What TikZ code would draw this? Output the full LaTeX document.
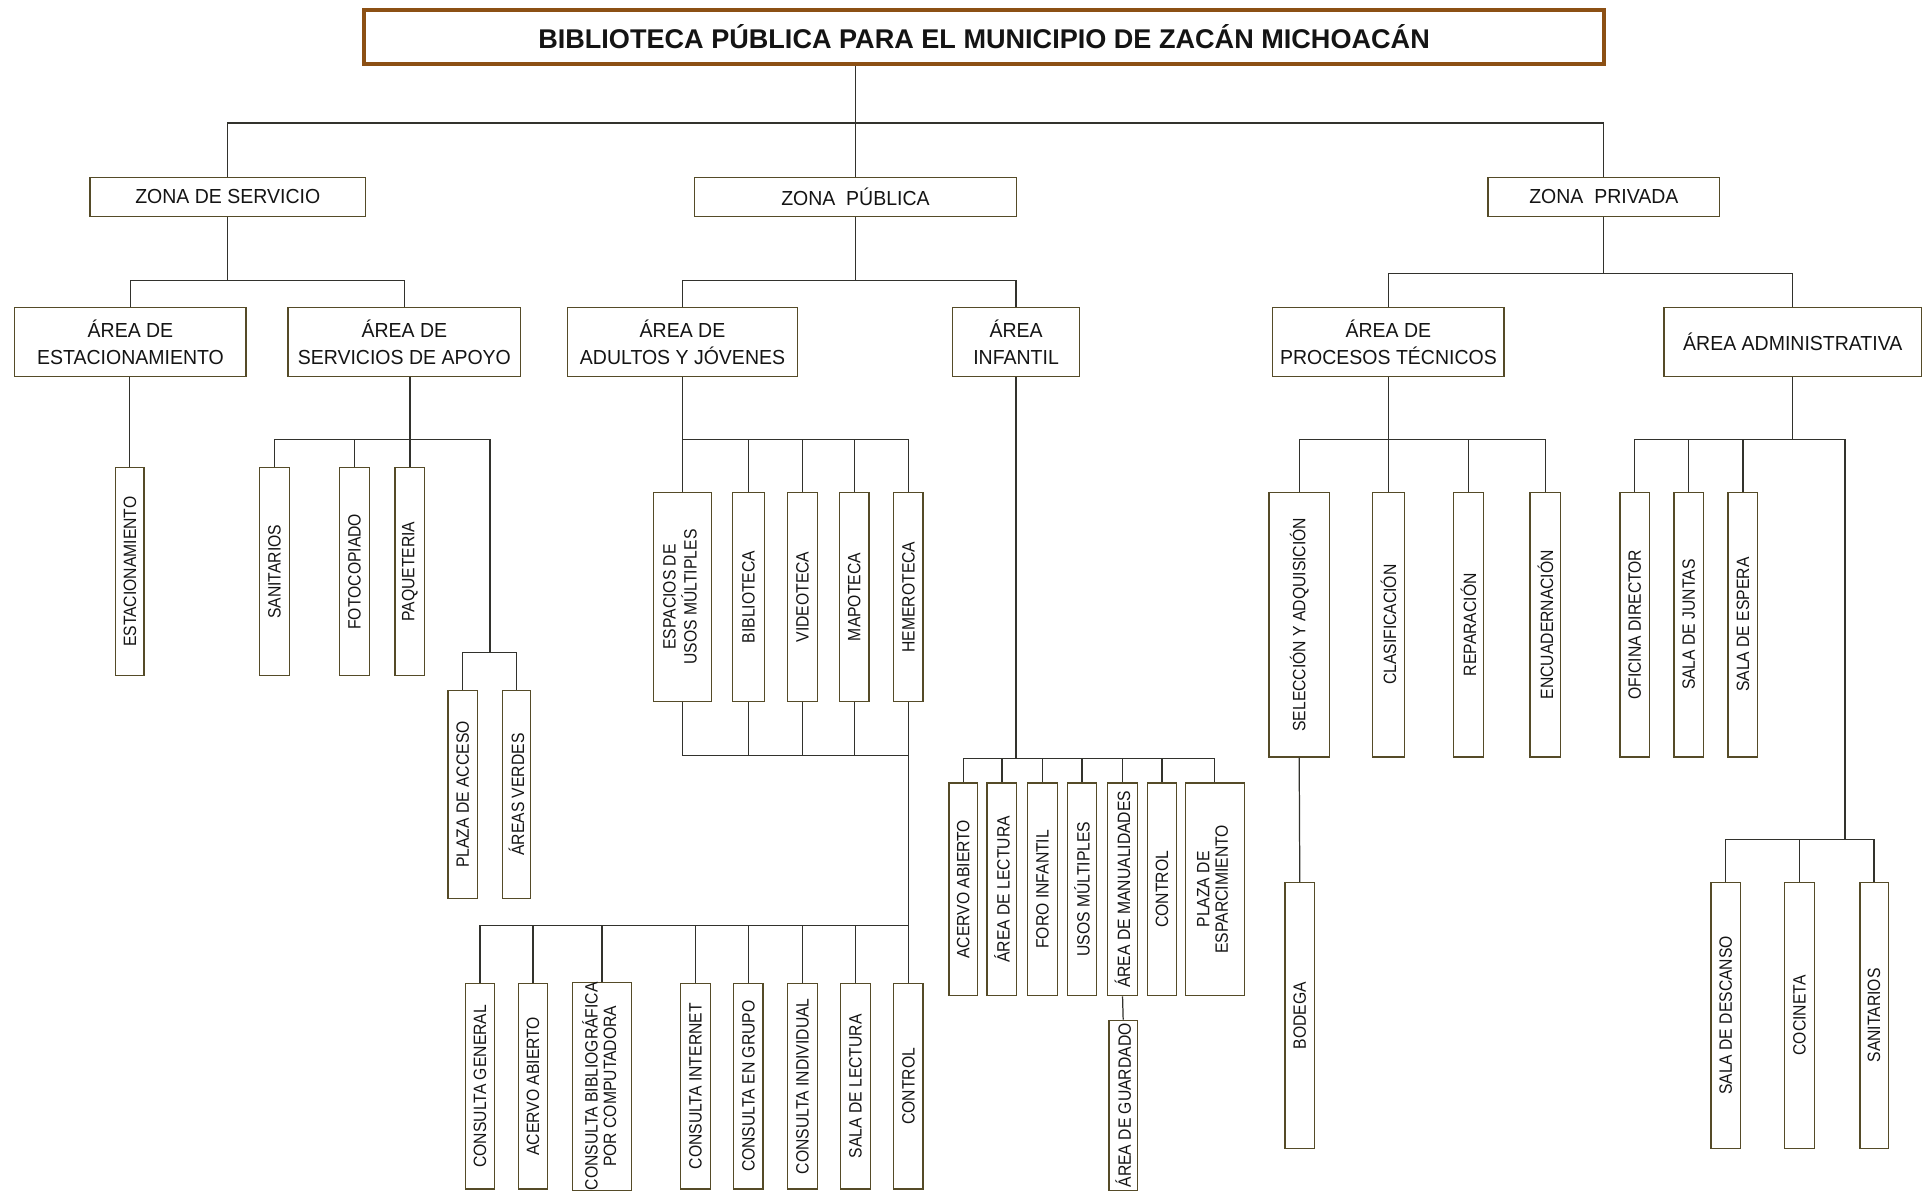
\documentclass[tikz,border=0pt]{standalone}
\usepackage{fontspec}
\usepackage{graphicx}
\setmainfont{Liberation Sans}
\newfontfamily\fhd{Liberation Sans}[FakeStretch=0.96]
\newfontfamily\fvt{Liberation Sans}[FakeStretch=0.88]
\definecolor{bordc}{RGB}{85,75,40}
\definecolor{linec}{RGB}{50,50,45}
\definecolor{titc}{RGB}{140,80,20}
\definecolor{txtc}{RGB}{20,20,20}
\tikzset{
  boxbase/.style={draw=bordc, fill=white, line width=1.1pt, inner sep=0pt, align=center, text=txtc},
  hb/.style={boxbase, font=\fhd\fontsize{16.5}{22}\selectfont},
  vb/.style={boxbase, font=\fvt\fontsize{14.5}{15}\selectfont},
  ttlbox/.style={draw=titc, line width=3.5pt, fill=white, inner sep=0pt, text=txtc, font=\bfseries\fontsize{22}{26}\selectfont},
  conn/.style={draw=linec, line width=1pt}
}
\newcommand{\hbx}[6]{\node[hb,minimum width={(#3-#2)*1pt},minimum height={(#5-#4)*1pt}] (#1) at ({(#2+#3)/2},{(#4+#5)/2}) {#6};}
\newcommand{\vbx}[6]{\node[vb,minimum width={(#3-#2)*1pt},minimum height={(#5-#4)*1pt}] (#1) at ({(#2+#3)/2},{(#4+#5)/2}) {\rotatebox{90}{#6}};}
\newcommand{\vtwo}[2]{\begin{tabular}{@{}c@{}}#1\\#2\end{tabular}}
\begin{document}
\begin{tikzpicture}[x=1pt,y=-1pt]
\useasboundingbox[fill=white] (0,0) rectangle (1568,969);
% title
\node[ttlbox, minimum width=1007pt, minimum height=44pt] (title) at (799.5,30) {BIBLIOTECA PÚBLICA PARA EL MUNICIPIO DE ZACÁN MICHOACÁN};
% zones
\hbx{zs}{73}{297}{144}{176}{ZONA DE SERVICIO}
\hbx{zp}{564}{826}{144}{176}{ZONA\ \ PÚBLICA}
\hbx{zpr}{1209}{1397}{144}{176}{ZONA\ \ PRIVADA}
% level 2
\hbx{ae}{12}{200}{250}{306}{ÁREA DE\\ESTACIONAMIENTO}
\hbx{asa}{234}{423}{250}{306}{ÁREA DE\\SERVICIOS DE APOYO}
\hbx{aa}{461}{648}{250}{306}{ÁREA DE\\ADULTOS Y JÓVENES}
\hbx{ai}{774}{877}{250}{306}{ÁREA\\INFANTIL}
\hbx{pt}{1034}{1222}{250}{306}{ÁREA DE\\PROCESOS TÉCNICOS}
\hbx{ad}{1352}{1561}{250}{306}{ÁREA ADMINISTRATIVA}
% servicio
\vbx{est}{94}{117}{380}{549}{ESTACIONAMIENTO}
\vbx{san}{211}{235}{380}{549}{SANITARIOS}
\vbx{fot}{276}{300}{380}{549}{FOTOCOPIADO}
\vbx{paq}{321}{345}{380}{549}{PAQUETERIA}
\vbx{pac}{364}{388}{561}{730}{PLAZA DE ACCESO}
\vbx{ave}{408}{431}{561}{730}{ÁREAS VERDES}
% adultos
\vbx{esp}{531}{578}{400}{570}{\vtwo{ESPACIOS DE}{USOS MÚLTIPLES}}
\vbx{bib}{595}{621}{400}{570}{BIBLIOTECA}
\vbx{vid}{640}{664}{400}{570}{VIDEOTECA}
\vbx{map}{682}{706}{400}{570}{MAPOTECA}
\vbx{hem}{726}{750}{400}{570}{HEMEROTECA}
\vbx{cg}{378}{402}{799}{966}{CONSULTA GENERAL}
\vbx{aca}{421}{445}{799}{966}{ACERVO ABIERTO}
\vbx{cbc}{465}{513}{799}{966}{\vtwo{CONSULTA BIBLIOGRÁFICA}{POR COMPUTADORA}}
\vbx{cin}{553}{577}{799}{966}{CONSULTA INTERNET}
\vbx{cgr}{596}{620}{799}{966}{CONSULTA EN GRUPO}
\vbx{cind}{640}{664}{799}{966}{CONSULTA INDIVIDUAL}
\vbx{sle}{683}{707}{799}{966}{SALA DE LECTURA}
\vbx{ctl}{726}{750}{799}{966}{CONTROL}
% infantil
\vbx{iac}{771}{794}{636}{809}{ACERVO ABIERTO}
\vbx{ile}{802}{826}{636}{809}{ÁREA DE LECTURA}
\vbx{ifo}{835}{859}{636}{809}{FORO INFANTIL}
\vbx{ius}{867}{891}{636}{809}{USOS MÚLTIPLES}
\vbx{ima}{900}{924}{636}{809}{ÁREA DE MANUALIDADES}
\vbx{ico}{932}{956}{636}{809}{CONTROL}
\vbx{ipe}{963}{1011}{636}{809}{\vtwo{PLAZA DE}{ESPARCIMIENTO}}
\vbx{igu}{901}{924}{829}{967}{ÁREA DE GUARDADO}
% procesos
\vbx{sel}{1031}{1080}{400}{615}{SELECCIÓN Y ADQUISICIÓN}
\vbx{cla}{1115}{1141}{400}{615}{CLASIFICACIÓN}
\vbx{rep}{1181}{1205}{400}{615}{REPARACIÓN}
\vbx{enc}{1243}{1268}{400}{615}{ENCUADERNACIÓN}
\vbx{bod}{1044}{1068}{717}{933}{BODEGA}
% admin
\vbx{ofi}{1316}{1340}{400}{615}{OFICINA DIRECTOR}
\vbx{jun}{1360}{1384}{400}{615}{SALA DE JUNTAS}
\vbx{ses}{1404}{1428}{400}{615}{SALA DE ESPERA}
\vbx{sde}{1390}{1414}{717}{933}{SALA DE DESCANSO}
\vbx{coc}{1450}{1474}{717}{933}{COCINETA}
\vbx{sa2}{1511}{1534}{717}{933}{SANITARIOS}
% bus coordinates
\coordinate (tb) at (0,100);
\coordinate (b1) at (0,228);
\coordinate (b2) at (0,222);
\coordinate (bsa) at (398,357);
\coordinate (j1) at (398,530);
\coordinate (bad) at (0,357);
\coordinate (blo) at (0,614);
\coordinate (bb) at (0,752);
\coordinate (bi) at (0,616);
\coordinate (bp) at (0,357);
\coordinate (j2) at (1499,682);
% connectors: top
\draw[conn] (title.south -| zp.north) -- (zp.north);
\draw[conn] (zs.north) -- (zs.north |- tb) -- (zpr.north |- tb) -- (zpr.north);
% zones to areas
\draw[conn] (zs.south) -- (zs.south |- b1);
\draw[conn] (ae.north) -- (ae.north |- b1) -- (asa.north |- b1) -- (asa.north);
\draw[conn] (zp.south) -- (zp.south |- b1);
\draw[conn] (aa.north) -- (aa.north |- b1) -- (ai.north |- b1) -- (ai.north);
\draw[conn] (zpr.south) -- (zpr.south |- b2);
\draw[conn] (pt.north) -- (pt.north |- b2) -- (ad.north |- b2) -- (ad.north);
% servicio
\draw[conn] (ae.south -| est.north) -- (est.north);
\draw[conn] (asa.south -| paq.north) -- (paq.north);
\draw[conn] (san.north) |- (bsa) -- (j1);
\draw[conn] (fot.north) -- (fot.north |- bsa);
\draw[conn] (pac.north) |- (j1) -| (ave.north);
% adultos
\draw[conn] (aa.south -| esp.north) -- (esp.north);
\draw[conn] (esp.north |- bad) -- (hem.north |- bad);
\foreach \n in {bib,vid,map,hem} {\draw[conn] (\n.north |- bad) -- (\n.north);}
\draw[conn] (esp.south) |- (hem.south |- blo);
\foreach \n in {bib,vid,map} {\draw[conn] (\n.south) -- (\n.south |- blo);}
\draw[conn] (hem.south) -- (ctl.north);
\draw[conn] (cg.north) |- (ctl.north |- bb);
\foreach \n in {aca,cbc,cin,cgr,cind,sle} {\draw[conn] (\n.north |- bb) -- (\n.north);}
% infantil
\draw[conn] (ai.south) -- (ai.south |- bi);
\draw[conn] (iac.north) |- (ipe.north |- bi) -- (ipe.north);
\foreach \n in {ile,ifo,ius,ima,ico} {\draw[conn] (\n.north |- bi) -- (\n.north);}
\draw[conn] (ima.south) -- (igu.north);
% procesos
\draw[conn] (pt.south -| cla.north) -- (cla.north);
\draw[conn] (sel.north) |- (enc.north |- bp) -- (enc.north);
\draw[conn] (rep.north |- bp) -- (rep.north);
\draw[conn] (sel.south) -- (bod.north);
% admin
\draw[conn] (ad.south) -- (ad.south |- bp);
\draw[conn] (ofi.north) |- (j2 |- bp) -- (j2);
\foreach \n in {jun,ses} {\draw[conn] (\n.north |- bp) -- (\n.north);}
\draw[conn] (sde.north) |- (sa2.north |- j2) -- (sa2.north);
\draw[conn] (coc.north |- j2) -- (coc.north);
\end{tikzpicture}
\end{document}
